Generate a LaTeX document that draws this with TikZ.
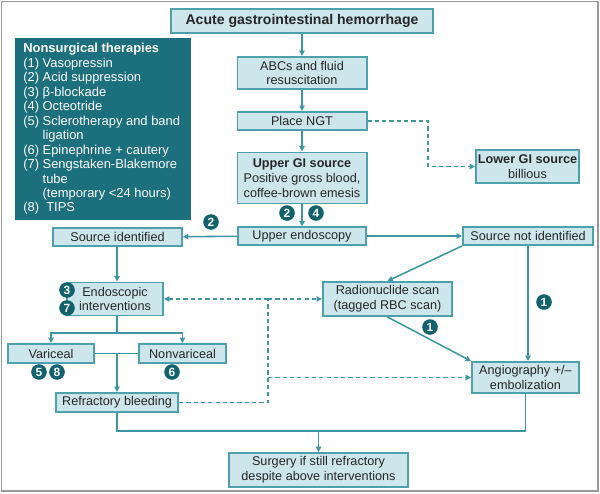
\documentclass[tikz,border=0pt]{standalone}
\usepackage{fontspec}
\setmainfont{Liberation Sans}
\usetikzlibrary{arrows.meta}
\definecolor{boxfill}{RGB}{204,230,236}
\definecolor{boxline}{RGB}{78,160,172}
\definecolor{linecol}{RGB}{62,150,162}
\definecolor{darkteal}{RGB}{18,98,110}
\definecolor{panelfill}{RGB}{28,112,126}
\begin{document}
\begin{tikzpicture}[x=0.025cm,y=-0.025cm,
	box/.style={draw=boxline,fill=boxfill,line width=1.4pt,inner sep=1pt,align=center,
		text=black!85,font=\fontsize{9}{10.6}\selectfont},
	link/.style={draw=linecol,line width=1.1pt,-{Triangle[length=3.8pt,width=3.8pt]}},
	plainlink/.style={draw=linecol,line width=1.1pt},
	dashlink/.style={draw=linecol,line width=1.1pt,dash pattern=on 3pt off 2.2pt,-{Triangle[length=3.8pt,width=3.8pt]}},
	dashplain/.style={draw=linecol,line width=1.1pt,dash pattern=on 3pt off 2.2pt},
	badge/.style={circle,fill=darkteal,text=white,inner sep=0pt,minimum size=0.39cm,
		font=\bfseries\fontsize{8.5}{8.5}\selectfont}]
	\useasboundingbox (0,0) rectangle (600,494);
	\draw[gray!80,line width=1.2pt] (1.5,1.5) rectangle (598,491);

	% therapies panel
	\fill[panelfill] (15,38) rectangle (191,220);
	\node[anchor=north west,inner sep=0pt,align=left,text=white,font=\fontsize{9.2}{10.3}\selectfont] (panel) at (23,43)
		{\textbf{Nonsurgical therapies}\\
		(1) Vasopressin\\
		(2) Acid suppression\\
		(3) β-blockade\\
		(4) Octeotride\\
		(5) Sclerotherapy and band\\
		\phantom{(5) }ligation\\
		(6) Epinephrine + cautery\\
		(7) Sengstaken-Blakemore\\
		\phantom{(7) }tube\\
		\phantom{(7) }(temporary <24 hours)\\
		(8)\ \ TIPS};

	% main column
	\node[box,minimum width=6.55cm,minimum height=0.6cm,font=\bfseries\fontsize{10}{12}\selectfont] (title) at (302,21) {Acute gastrointestinal hemorrhage};
	\node[box,minimum width=3.225cm,minimum height=0.8cm] (abc) at (302,73) {ABCs and fluid\\resuscitation};
	\node[box,minimum width=3.225cm,minimum height=0.45cm] (ngt) at (302,121) {Place NGT};
	\node[box,minimum width=3.225cm,minimum height=1.275cm] (upper) at (302,178) {\textbf{Upper GI source}\\Positive gross blood,\\coffee-brown emesis};
	\node[box,minimum width=3.2cm,minimum height=0.43cm] (endoscopy) at (302,236) {Upper endoscopy};
	\node[box,minimum width=2.575cm,minimum height=0.825cm] (lower) at (527.5,166.5) {\textbf{Lower GI source}\\billious};

	\node[box,minimum width=3.225cm,minimum height=0.43cm] (srcid) at (117.5,237) {Source identified};
	\node[box,minimum width=3.25cm,minimum height=0.45cm] (srcnot) at (528,236) {Source not identified};

	\node[box,minimum width=2.4cm,minimum height=0.825cm] (endo) at (115,299) {Endoscopic\\interventions};
	\node[box,minimum width=2.15cm,minimum height=0.475cm] (varic) at (51,353.5) {Variceal};
	\node[box,minimum width=2.175cm,minimum height=0.475cm] (nonvar) at (182.5,353.5) {Nonvariceal};
	\node[box,minimum width=3.05cm,minimum height=0.475cm] (refr) at (117,402.5) {Refractory bleeding};

	\node[box,minimum width=3.225cm,minimum height=0.85cm] (radio) at (387.5,299) {Radionuclide scan\\(tagged RBC scan)};
	\node[box,minimum width=2.675cm,minimum height=0.775cm] (angio) at (525.5,377.5) {Angiography +/--\\embolization};
	\node[box,minimum width=4.475cm,minimum height=0.85cm] (surg) at (318.5,470) {Surgery if still refractory\\despite above interventions};

	\coordinate (split) at (117,333);
	\coordinate (kneeA) at (428,166.5);
	\coordinate (djtop) at (268,299);
	\coordinate (djmid) at (268,377.5);
	\coordinate (botR) at (525.5,431);

	% solid connectors
	\draw[link] (title) -- (abc);
	\draw[link] (abc) -- (ngt);
	\draw[link] (ngt) -- (upper);
	\draw[link] (upper) -- (endoscopy);
	\draw[link] (endoscopy) -- (srcid);
	\draw[link] (endoscopy) -- (srcnot);
	\draw[link] (srcid.south -| split) -- (endo.north -| split);
	\draw[plainlink] (endo.south -| split) -- (split);
	\draw[link] (split) -| (varic.north);
	\draw[link] (split) -| (nonvar.north);
	\draw[plainlink] (varic) -- (nonvar);
	\draw[link] (varic -| split) -- (refr.north);
	\draw[plainlink] (refr.south) |- (botR) -- (angio.south);
	\draw[link] (surg.north |- botR) -- (surg.north);
	\draw[link] (srcnot.south west) -- (radio.north);
	\draw[link] (radio.south) -- (angio.north west);
	\draw[link] (srcnot) -- (srcnot |- angio.north);

	% dashed connectors
	\draw[dashlink] (ngt.east) -| (kneeA) -- (lower.west);
	\draw[dashplain] (refr.east) -| (djtop);
	\draw[dashlink] (djtop) -- (endo);
	\draw[dashlink] (djtop) -- (radio);
	\draw[dashlink] (djmid) -- (angio);

	% therapy numbers
	\node[badge] (b2a) at (287,213) {2};
	\node[badge] (b4) at (316,213) {4};
	\node[badge] (b2b) at (211,222) {2};
	\node[badge] (b3) at (67,290) {3};
	\node[badge] (b7) at (67,308) {7};
	\node[badge] (b5) at (39,372) {5};
	\node[badge] (b8) at (57,372) {8};
	\node[badge] (b6) at (172,372) {6};
	\node[badge] (b1a) at (544,302) {1};
	\node[badge] (b1b) at (430,327) {1};
\end{tikzpicture}
\end{document}
